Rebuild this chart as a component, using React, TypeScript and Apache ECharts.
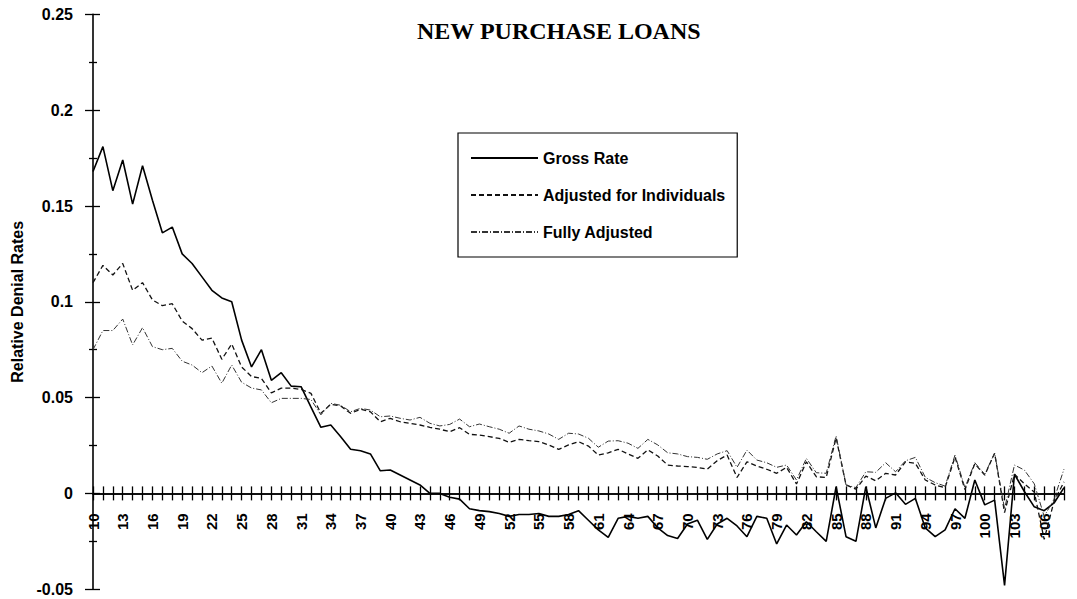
import React, { useEffect, useRef } from "react";
import * as echarts from "echarts";

const CATEGORIES: string[] = [
  "10", "11", "12", "13", "14", "15", "16", "17", "18", "19",
  "20", "21", "22", "23", "24", "25", "26", "27", "28", "29",
  "30", "31", "32", "33", "34", "35", "36", "37", "38", "39",
  "40", "41", "42", "43", "44", "45", "46", "47", "48", "49",
  "50", "51", "52", "53", "54", "55", "56", "57", "58", "59",
  "60", "61", "62", "63", "64", "65", "66", "67", "68", "69",
  "70", "71", "72", "73", "74", "75", "76", "77", "78", "79",
  "80", "81", "82", "83", "84", "85", "86", "87", "88", "89",
  "90", "91", "92", "93", "94", "95", "96", "97", "98", "99",
  "100", "101", "102", "103", "104", "105", "106", "107", "108",
];

const GROSS_RATE: number[] = [
  0.168, 0.181, 0.158, 0.174, 0.151, 0.171, 0.153, 0.136, 0.139, 0.125,
  0.12, 0.113, 0.106, 0.102, 0.1, 0.08, 0.066, 0.075, 0.059, 0.063,
  0.056, 0.0557, 0.045, 0.0345, 0.0357, 0.0296, 0.023, 0.0223, 0.0206, 0.0118,
  0.0122, 0.0096, 0.007, 0.0044, 0.0, 0.0, -0.002, -0.003, -0.008, -0.009,
  -0.0095, -0.0105, -0.012, -0.011, -0.011, -0.0105, -0.012, -0.012, -0.011, -0.009,
  -0.014, -0.019, -0.023, -0.013, -0.012, -0.013, -0.012, -0.018, -0.022, -0.0235,
  -0.016, -0.014, -0.024, -0.016, -0.013, -0.017, -0.0226, -0.012, -0.013, -0.0264,
  -0.0165, -0.0217, -0.0148, -0.02, -0.025, 0.0035, -0.0226, -0.025, 0.0035, -0.018,
  -0.0026, 0.0003, -0.0057, -0.0026, -0.018, -0.0226, -0.019, -0.008, -0.013, 0.007,
  -0.006, -0.0035, -0.048, 0.01, 0.001, -0.007, -0.009, -0.005, 0.003,
];

const ADJUSTED_FOR_INDIVIDUALS: number[] = [
  0.11, 0.119, 0.114, 0.12, 0.106, 0.11, 0.101, 0.098, 0.099, 0.09,
  0.086, 0.08, 0.081, 0.07, 0.078, 0.066, 0.061, 0.06, 0.0525, 0.0549,
  0.0549, 0.0543, 0.0522, 0.0418, 0.0465, 0.0456, 0.0418, 0.0439, 0.0426, 0.0374,
  0.0392, 0.0374, 0.0366, 0.0357, 0.0345, 0.0335, 0.0322, 0.0343, 0.0308, 0.0305,
  0.0296, 0.0287, 0.0267, 0.0282, 0.0275, 0.027, 0.0253, 0.023, 0.0253, 0.027,
  0.0247, 0.02, 0.0212, 0.023, 0.0206, 0.0183, 0.0227, 0.0195, 0.0148, 0.0143,
  0.014, 0.0136, 0.0126, 0.0171, 0.02, 0.0083, 0.0165, 0.0143, 0.0126, 0.0105,
  0.0136, 0.0049, 0.0165, 0.0087, 0.0083, 0.029, 0.0044, 0.0022, 0.009, 0.0066,
  0.0105, 0.0096, 0.0165, 0.0157, 0.007, 0.0044, 0.003, 0.019, 0.002, 0.0155,
  0.0095, 0.021, -0.01, 0.01, 0.005, 0.0007, -0.024, -0.004, 0.006,
];

const FULLY_ADJUSTED: number[] = [
  0.075, 0.085, 0.085, 0.091, 0.0775, 0.0865, 0.0766, 0.075, 0.0757, 0.069,
  0.067, 0.063, 0.0665, 0.0575, 0.067, 0.058, 0.055, 0.054, 0.0473, 0.0496,
  0.0496, 0.0496, 0.049, 0.041, 0.047, 0.046, 0.0426, 0.0444, 0.0435, 0.04,
  0.0404, 0.0392, 0.0383, 0.0397, 0.0366, 0.0352, 0.036, 0.0388, 0.0348, 0.0362,
  0.0348, 0.0335, 0.0314, 0.0352, 0.0335, 0.0326, 0.031, 0.0282, 0.0314, 0.031,
  0.0288, 0.0241, 0.0273, 0.0275, 0.0262, 0.0235, 0.0282, 0.0253, 0.0212, 0.0206,
  0.0192, 0.0188, 0.0178, 0.0206, 0.0223, 0.0136, 0.0226, 0.0174, 0.016, 0.0136,
  0.0148, 0.007, 0.0183, 0.0108, 0.0105, 0.03, 0.0044, 0.003, 0.0113, 0.011,
  0.016, 0.0113, 0.017, 0.0188, 0.0084, 0.0056, 0.0038, 0.02, 0.003, 0.016,
  0.01, 0.021, -0.008, 0.0148, 0.0122, 0.005, -0.012, -0.003, 0.0127,
];

const TITLE = "NEW PURCHASE LOANS";
const Y_NAME = "Relative Denial Rates";
const SERIES_NAMES = ["Gross Rate", "Adjusted for Individuals", "Fully Adjusted"];

const SANS = "'Liberation Sans', Arial, Helvetica, sans-serif";
const SERIF = "'Liberation Serif', 'Times New Roman', serif";

// plot geometry (pixels)
const GRID_TOP = 14.4;
const GRID_BOTTOM = 9.8;
const CHART_H = 599;
const Y_MIN = -0.05;
const Y_MAX = 0.25;
// distance of the zero line above the grid's bottom edge
const ZERO_OFFSET = ((0 - Y_MIN) / (Y_MAX - Y_MIN)) * (CHART_H - GRID_TOP - GRID_BOTTOM);

export default function App() {
  const ref = useRef<HTMLDivElement>(null);

  useEffect(() => {
    if (!ref.current) return;
    const chart = echarts.init(ref.current, null, { renderer: "svg" });

    const yBase = {
      type: "value",
      min: Y_MIN,
      max: Y_MAX,
      interval: 0.05,
      position: "left",
      splitLine: { show: false },
      minorSplitLine: { show: false },
    };
    const tickLine = { color: "#000", width: 1.3 };

    chart.setOption({
      animation: false,
      backgroundColor: "#ffffff",
      title: {
        text: TITLE,
        left: 417,
        top: 19,
        padding: 0,
        textStyle: {
          fontFamily: SERIF,
          fontWeight: "bold",
          fontSize: 24,
          color: "#000",
        },
      },
      legend: {
        orient: "vertical",
        left: 458,
        top: 133,
        padding: [17, 12, 17, 12],
        itemGap: 21,
        itemWidth: 67,
        itemHeight: 16,
        borderColor: "#000",
        borderWidth: 1.2,
        backgroundColor: "#fff",
        itemStyle: { opacity: 0 },
        textStyle: {
          fontFamily: SANS,
          fontWeight: "bold",
          fontSize: 16,
          lineHeight: 16,
          color: "#000",
        },
        data: SERIES_NAMES,
      },
      grid: {
        left: 93,
        right: 13,
        top: GRID_TOP,
        bottom: GRID_BOTTOM,
        containLabel: false,
        outerBoundsMode: "none",
      },
      xAxis: [
        {
          type: "category",
          data: CATEGORIES,
          boundaryGap: false,
          position: "bottom",
          offset: -ZERO_OFFSET,
          axisLine: {
            onZero: false,
            lineStyle: { color: "#000", width: 1.6 },
          },
          axisTick: { show: true, interval: 0, inside: false, length: 7, lineStyle: tickLine },
          axisLabel: {
            interval: 2,
            rotate: 90,
            margin: 20,
            fontFamily: SANS,
            fontWeight: "bold",
            fontSize: 15,
            color: "#000",
          },
          splitLine: { show: false },
        },
        {
          type: "category",
          data: CATEGORIES,
          boundaryGap: false,
          position: "bottom",
          offset: -ZERO_OFFSET,
          axisLine: {
            onZero: false,
            lineStyle: { color: "#000", width: 1.6 },
          },
          axisTick: { show: true, interval: 0, inside: true, length: 7, lineStyle: tickLine },
          axisLabel: { show: false },
          splitLine: { show: false },
        },
      ],
      yAxis: [
        {
          ...yBase,
          name: Y_NAME,
          nameLocation: "middle",
          nameGap: 68,
          nameTextStyle: {
            fontFamily: SANS,
            fontWeight: "bold",
            fontSize: 16,
            color: "#000",
          },
          axisLine: { show: true, lineStyle: { color: "#000", width: 1.6 } },
          axisTick: { show: true, inside: false, length: 8, lineStyle: tickLine },
          minorTick: { show: true, splitNumber: 2, length: 4, lineStyle: tickLine },
          axisLabel: {
            margin: 20,
            fontFamily: SANS,
            fontWeight: "bold",
            fontSize: 16,
            color: "#000",
          },
        },
        {
          ...yBase,
          axisLine: { show: false },
          axisTick: { show: true, inside: true, length: 7, lineStyle: tickLine },
          minorTick: { show: true, splitNumber: 2, length: 4, lineStyle: tickLine },
          axisLabel: { show: false },
        },
      ],
      series: [
        {
          name: SERIES_NAMES[0],
          type: "line",
          xAxisIndex: 0,
          yAxisIndex: 0,
          data: GROSS_RATE,
          symbol: "none",
          itemStyle: { color: "#000" },
          lineStyle: { color: "#000", width: 1.6, type: "solid" },
        },
        {
          name: SERIES_NAMES[1],
          type: "line",
          xAxisIndex: 0,
          yAxisIndex: 0,
          data: ADJUSTED_FOR_INDIVIDUALS,
          symbol: "none",
          itemStyle: { color: "#111" },
          lineStyle: { color: "#111", width: 1.3, type: [5, 3] },
        },
        {
          name: SERIES_NAMES[2],
          type: "line",
          xAxisIndex: 0,
          yAxisIndex: 0,
          data: FULLY_ADJUSTED,
          symbol: "none",
          itemStyle: { color: "#333" },
          lineStyle: { color: "#333", width: 1, type: [6, 2, 1, 2] },
        },
      ],
    });

    return () => {
      chart.dispose();
    };
  }, []);

  return (
    <div
      ref={ref}
      style={{ position: "absolute", left: 0, top: 0, width: 1077, height: 599, background: "#fff" }}
    />
  );
}
